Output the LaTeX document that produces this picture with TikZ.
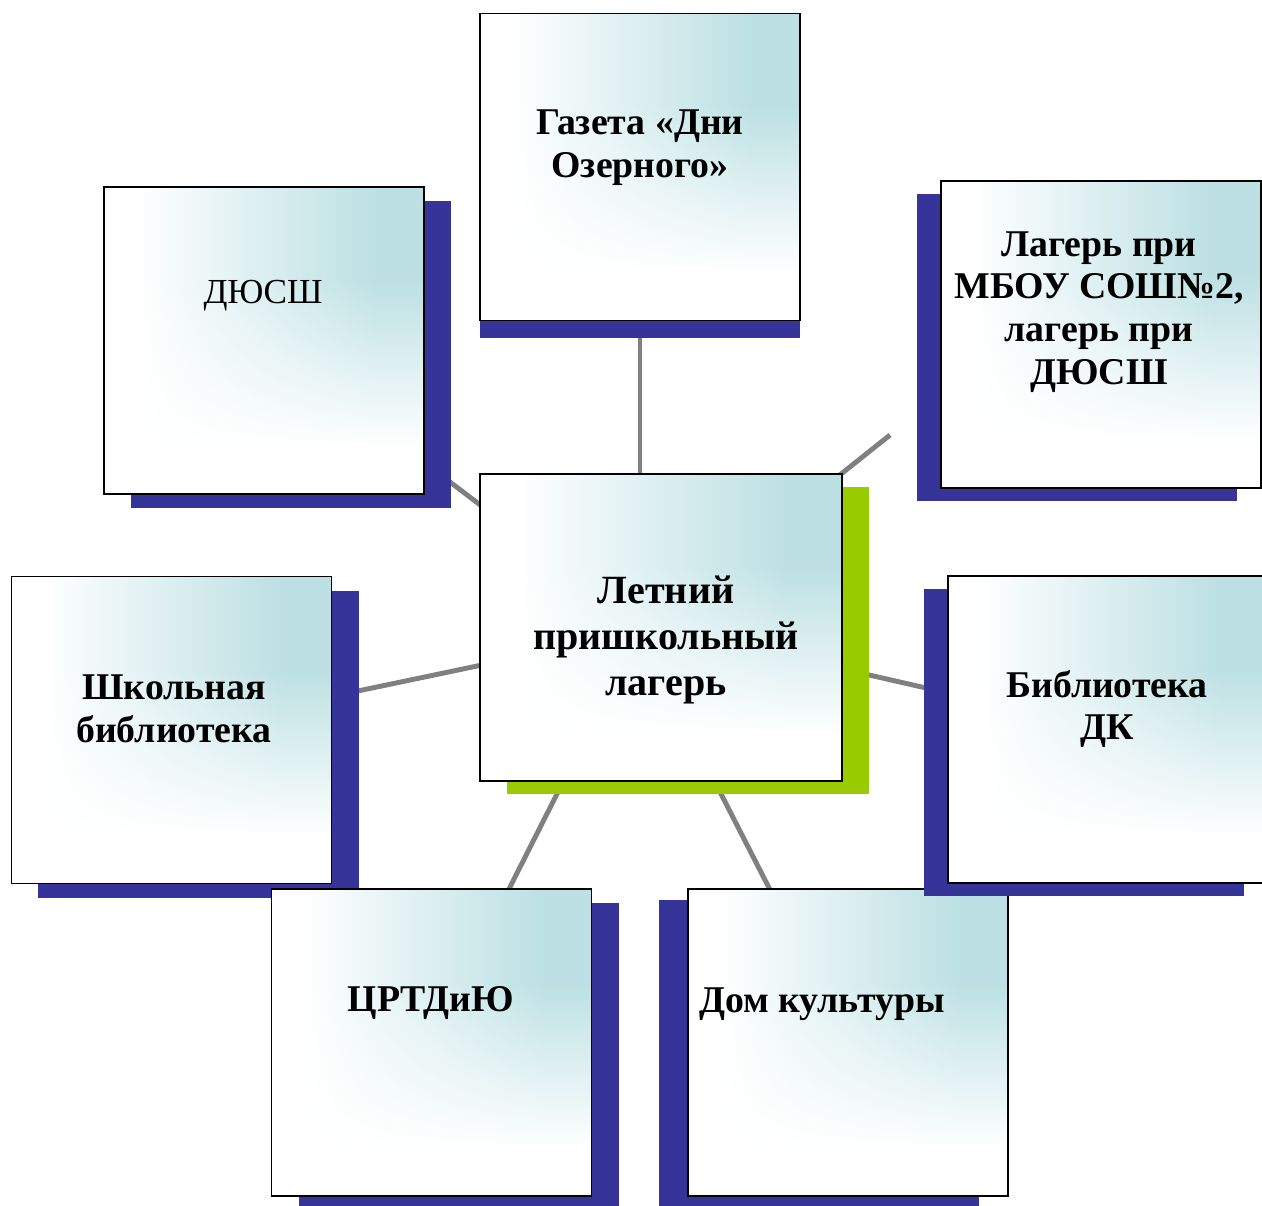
\documentclass[tikz,border=0pt]{standalone}
\usepackage{fontspec}
\setmainfont{Liberation Serif}
\usetikzlibrary{shadows,backgrounds}
\definecolor{shadeblue}{RGB}{54,52,153}
\definecolor{shadegreen}{RGB}{153,204,0}
\definecolor{linkgray}{RGB}{128,128,128}
% white fading into pale teal at the top right corner
\pgfdeclarefunctionalshading{cardshade}{\pgfpoint{0bp}{0bp}}{\pgfpoint{100bp}{100bp}}{}{
	32.5 sub 27.5 div dup 0 lt {pop 0} if dup 1 gt {pop 1} if
	exch 30 sub 37.5 div dup 0 lt {pop 0} if dup 1 gt {pop 1} if
	mul
	dup 0.263 mul 1 exch sub exch
	dup 0.122 mul 1 exch sub exch
	0.110 mul 1 exch sub
}
\tikzset{
	card/.style={draw=black, line width=1.1pt, minimum width=64mm, minimum height=61.4mm, shading=cardshade},
	shadowright/.style={general shadow={fill=shadeblue, shadow xshift=5.4mm, shadow yshift=-2.8mm}},
	shadowleft/.style={general shadow={fill=shadeblue, shadow xshift=-4.8mm, shadow yshift=-2.6mm}},
	shadowdown/.style={general shadow={fill=shadeblue, shadow yshift=-3.4mm}},
	caption/.style={align=center, font=\fontsize{21.5}{24.4}\selectfont\bfseries},
	link/.style={draw=linkgray, line width=2.8pt},
}
\begin{document}
\begin{tikzpicture}[x=0.2mm, y=-0.2mm]
		\useasboundingbox (0,0) rectangle (1262,1205);
		%boxes
		\node[card, shadowdown] (gazeta) at (640,167) {};
		\node[caption] (gazetaText) at (640,148) {Газета «Дни\\Озерного»};
		\node[card, shadowright] (dyussh) at (264,340.5) {};
		\node[caption, font=\fontsize{20}{23}\selectfont] (dyusshText) at (263,296) {ДЮСШ};
		\node[card, shadowleft] (camp) at (1101,334.5) {};
		\node[caption] (campText) at (1099,312) {Лагерь при\\МБОУ СОШ№2,\\лагерь при\\ДЮСШ};
		% centre
		\node[card, minimum width=72.4mm, general shadow={fill=shadegreen, shadow xshift=5.4mm, shadow yshift=-2.6mm}] (hub) at (661,627.5) {};
		\node[caption, font=\fontsize{22.8}{26}\selectfont\bfseries] (hubText) at (666,640) {Летний\\пришкольный\\лагерь};
		\node[card, shadowright] (schoollib) at (171.5,730) {};
		\node[caption] (schoollibText) at (174,709) {Школьная\\библиотека};
		\node[card, shadowright] (crt) at (431.5,1042.5) {};
		\node[caption] (crtText) at (431,1003) {ЦРТДиЮ};
		\node[card, general shadow={fill=shadeblue, shadow xshift=-5.8mm, shadow yshift=-2.2mm}] (dk) at (848,1042.5) {};
		\node[caption] (dkText) at (822,1004) {Дом культуры};
		\node[card, shadowleft] (dklib) at (1108,729.5) {};
		\node[caption] (dklibText) at (1107,709) {Библиотека\\ДК};
		% links
		\coordinate (campTip) at (890,435);
		\begin{scope}[on background layer]
			\draw[link] (gazeta.center) -- (gazeta.center |- hub.center);
			\draw[link] (dyussh.center) -- ([yshift=-3mm]hub.center);
			\draw[link] ([yshift=2mm]hub.center) -- (campTip);
			\draw[link] (schoollib.center) -- (hub.center);
			\draw[link] (hub.center) -- (dklib.center);
			\draw[link] (crt.center) -- ([xshift=-4mm]hub.center);
			\draw[link] ([xshift=-5mm]hub.center) -- (dk.center);
		\end{scope}
\end{tikzpicture}
\end{document}
